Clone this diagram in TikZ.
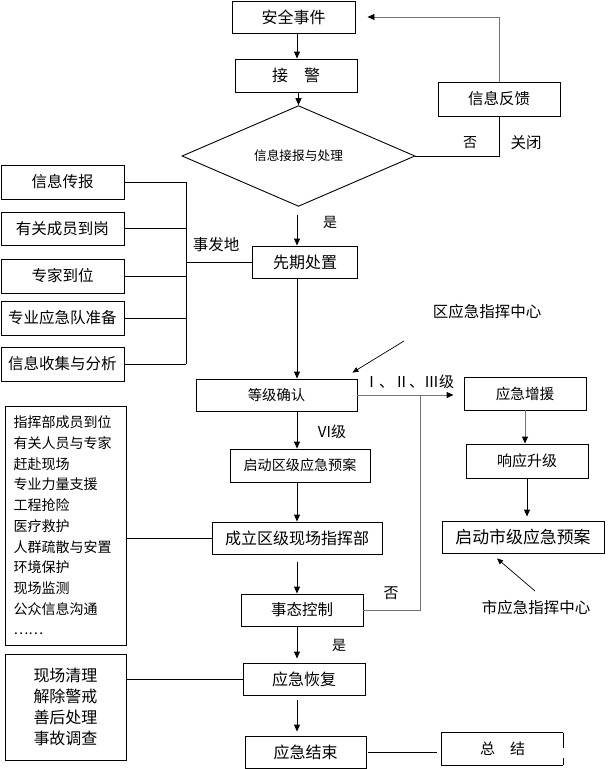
\documentclass[tikz,border=0pt]{standalone}
\usepackage{fontspec}
\setmainfont{Noto Sans CJK SC}
\usetikzlibrary{shapes.geometric,arrows.meta,calc}
\begin{document}
\begin{tikzpicture}[x=1pt,y=-1pt,
  box/.style={draw, line width=0.9pt, inner sep=0pt, anchor=center},
  fsz/.style={font=\fontsize{#1}{#1}\selectfont},
  arr/.style={line width=0.9pt, -{Triangle[length=7pt,width=6pt]}},
  garr/.style={line width=0.9pt, draw=black!55, -{Triangle[length=7pt,width=6pt,color=black]}},
  thinarr/.style={line width=0.7pt, -{Triangle[length=6pt,width=5pt]}},
  ln/.style={line width=0.9pt},
  gln/.style={line width=0.9pt, draw=black!55},
  lbl/.style={inner sep=0pt, anchor=center}]
\useasboundingbox (0,0) rectangle (615,769);

% main column
\node[box, fsz=16, minimum width=123pt, minimum height=32pt] (sj) at (293.5,17) {安全事件};
\node[box, fsz=16, minimum width=122pt, minimum height=33pt] (jj) at (296,75.5) {接　警};
\node[box, diamond, fsz=12.7, minimum width=233pt, minimum height=84pt] (dia) at (298.5,156) {\raisebox{-4pt}{信息接报与处理}};
\node[box, fsz=15.5, minimum width=122pt, minimum height=34pt] (fb) at (499,99) {信息反馈};
\node[box, fsz=16, minimum width=104.5pt, minimum height=32pt] (qc) at (305,262) {先期处置};
\node[box, fsz=14.3, minimum width=161pt, minimum height=32pt] (dj) at (276.5,395) {等级确认};
\node[box, fsz=14.6, minimum width=122pt, minimum height=33pt] (zy) at (525,393.5) {应急增援};
\node[box, fsz=15, minimum width=122pt, minimum height=34pt] (xy) at (527,461) {响应升级};
\node[box, fsz=14.1, minimum width=140pt, minimum height=33pt] (qd) at (300,465.5) {启动区级应急预案};
\node[box, fsz=16, minimum width=170pt, minimum height=32pt] (cl) at (297,538) {成立区级现场指挥部};
\node[box, fsz=15.5, minimum width=122pt, minimum height=32pt] (sk) at (302,610) {事态控制};
\node[box, fsz=16.9, minimum width=162pt, minimum height=32pt] (qs) at (523,537) {启动市级应急预案};
\node[box, fsz=16, minimum width=122pt, minimum height=32pt] (hf) at (304,679) {应急恢复};
\node[box, fsz=16, minimum width=121pt, minimum height=32pt] (js) at (305.5,752) {应急结束};
\node[box, draw=none, fsz=15, minimum width=121pt, minimum height=32pt] (zj) at (502.5,749) {总　结};
\draw[ln] (zj.north east) -- (zj.north west) -- (zj.south west) -- (zj.south east);
\draw[ln] (zj.north east) -- ++(0,15);
\draw[ln] (zj.south east) -- ++(0,-7);

% left boxes
\node[box, fsz=15.5, minimum width=123pt, minimum height=34pt] (b1) at (62.5,182) {信息传报};
\node[box, fsz=15.5, minimum width=123pt, minimum height=33pt] (b2) at (62.5,228.5) {有关成员到岗};
\node[box, fsz=15.5, minimum width=123pt, minimum height=34pt] (b3) at (62.5,276) {专家到位};
\node[box, fsz=15.5, minimum width=123pt, minimum height=34pt] (b4) at (62.5,318) {专业应急队准备};
\node[box, fsz=15.5, minimum width=123pt, minimum height=34pt] (b5) at (62.5,364) {信息收集与分析};
\node[box, font=\fontsize{14}{20.7}\selectfont, minimum width=121pt, minimum height=239pt, align=left, text width=104pt] (bb) at (65.5,525.5)
  {指挥部成员到位\\有关人员与专家\\赶赴现场\\专业力量支援\\工程抢险\\医疗救护\\人群疏散与安置\\环境保护\\现场监测\\公众信息沟通\\……};
\node[box, font=\fontsize{16}{21}\selectfont, minimum width=121pt, minimum height=106pt, align=center] (bb2) at (65.5,707)
  {现场清理\\解除警戒\\善后处理\\事故调查};

% trunk arrows
\coordinate (tr) at (297,0);
\draw[arr] (sj.south -| tr) -- (jj.north -| tr);
\draw[arr] (jj.south -| dia.north) -- (dia.north);
\draw[arr, shorten <=8pt] (dia.south -| tr) -- (qc.north -| tr);
\draw[arr] (qc.south -| tr) -- (dj.north -| tr);
\draw[arr] (dj.south -| tr) -- (qd.north -| tr);
\draw[arr] (qd.south -| tr) -- (cl.north -| tr);
\draw[arr, shorten <=8pt] (cl.south -| tr) -- (sk.north -| tr);
\draw[arr, shorten >=4pt] (sk.south -| tr) -- (hf.north -| tr);
\draw[arr, shorten <=5pt, shorten >=4pt] (hf.south -| tr) -- (js.north -| tr);

% feedback loop
\draw[ln] (dia.east) -- (dia.east -| fb.south) -- (fb.south);
\draw[garr, shorten >=12pt] (fb.north) |- (sj.east);

% right branch
\draw[garr, shorten >=10pt] (dj.east) -- (dj.east -| zy.west);
\coordinate (jx) at (420,0);
\draw[gln] (sk.east) -- (sk.east -| jx) -- (dj.east -| jx);
\draw[garr] (zy.south) -- (zy.south |- xy.north);
\draw[arr, shorten >=4pt] (xy.south) -- (xy.south |- qs.north);

% command centres
\node[lbl, fsz=15.5] (qzx) at (487,312) {区应急指挥中心};
\coordinate (qa) at (404,341);
\draw[thinarr] (qa) -- ($(dj.north east)+(-5,-6)$);
\node[lbl, fsz=15.5] (szx) at (536,608) {市应急指挥中心};
\coordinate (sa) at (535,591);
\draw[thinarr] (sa) -- ($(qs.south)+(-26,5)$);

% left bus
\coordinate (bus) at (186,0);
\foreach \b in {b1,b2,b3,b4,b5} {\draw[ln] (\b.east) -- (\b.east -| bus);}
\draw[ln] (b1.east -| bus) -- (b5.east -| bus);
\draw[ln] (qc.west -| bus) -- (qc.west);
\draw[ln] (cl.west -| bb.east) -- (cl.west);
\draw[ln] (hf.west -| bb2.east) -- (hf.west);
\draw[ln, shorten <=2pt, shorten >=5pt] (js.east) -- (js.east -| zj.west);

% labels
\node[lbl, fsz=14] (no1) at (470,143) {否};
\node[lbl, fsz=15.5] (close) at (526,143) {关闭};
\node[lbl, fsz=14] (yes1) at (330,222) {是};
\node[lbl, fsz=15.5] (sfd) at (216,245) {事发地};
\node[lbl, fsz=15] (lv123) at (409,382) {Ⅰ、Ⅱ、Ⅲ级};
\node[lbl, fsz=15] (lv4) at (332,432) {VI级};
\node[lbl, fsz=15] (no2) at (391,593) {否};
\node[lbl, fsz=14] (yes2) at (339,645) {是};
\end{tikzpicture}
\end{document}
